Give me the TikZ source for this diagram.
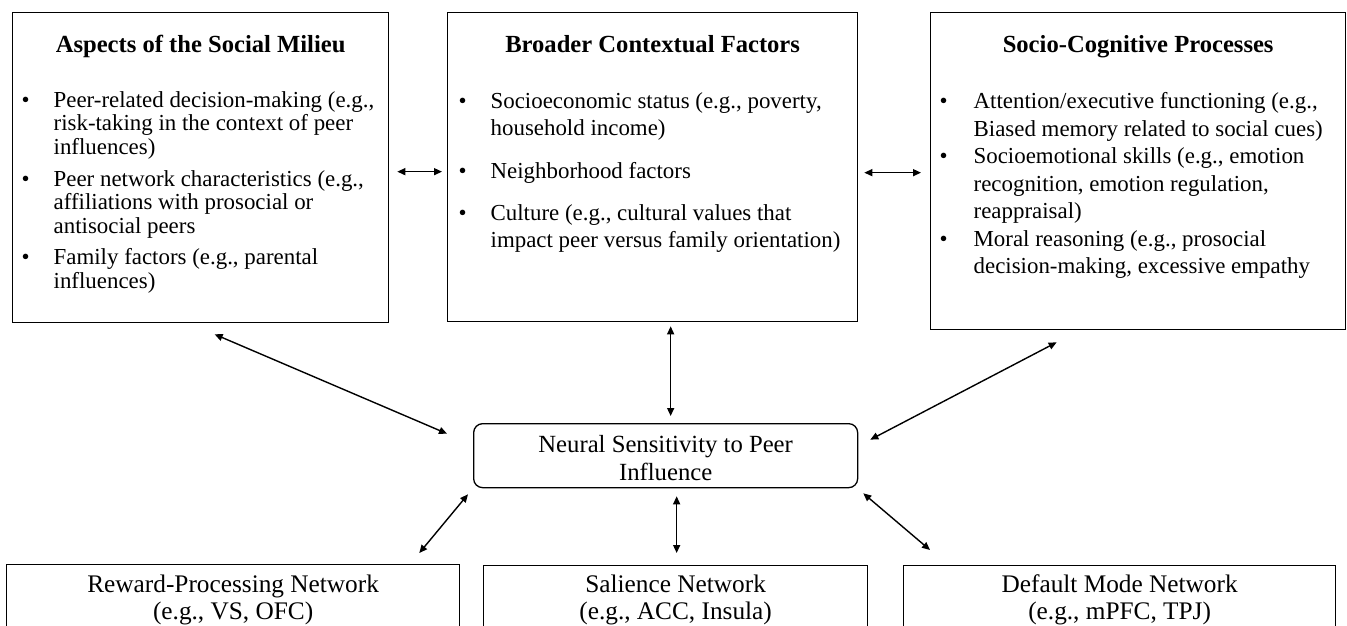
\documentclass[tikz,border=0pt]{standalone}
\usepackage{fontspec}
\setmainfont{Liberation Serif}
\usetikzlibrary{arrows.meta}
\newcommand\bitem[3]{\par\hangindent=#2pt\hangafter=1\noindent\hspace*{#1pt}\makebox[0pt]{\textbullet}\hspace*{\dimexpr #2pt-#1pt\relax}#3\par}
\tikzset{
  box/.style={draw, line width=1.3pt, inner sep=0pt, anchor=north west},
  rbox/.style={box, rounded corners=9pt},
  arr/.style={line width=1.4pt, {Triangle[length=8pt,width=7pt]}-{Triangle[length=8pt,width=7pt]}},
}
\begin{document}
\begin{tikzpicture}[x=1pt,y=-1pt]
\path[use as bounding box] (0,0) rectangle (1347,625);
\clip (0,0) rectangle (1347,625);

% top left box
\node[box] (L) at (12,12) {\begin{minipage}[t][310pt][t]{376pt}\lineskiplimit=-100pt
{\centering\fontsize{24.6}{28}\selectfont\bfseries\rule{0pt}{40pt}Aspects of the Social Milieu\par}
\vspace{31.7pt}
\raggedright\fontsize{22.9}{23.3}\selectfont
\bitem{13}{41}{Peer-related decision-making (e.g.,\newline risk-taking in the context of peer\newline influences)}
\vspace{9pt}
\bitem{13}{41}{Peer network characteristics (e.g.,\newline affiliations with prosocial or\newline antisocial peers}
\vspace{8.5pt}
\bitem{13}{41}{Family factors (e.g., parental\newline influences)}
\end{minipage}};

% top middle box
\node[box] (M) at (447,12) {\begin{minipage}[t][309pt][t]{410pt}\lineskiplimit=-100pt
{\centering\fontsize{24.6}{28}\selectfont\bfseries\rule{0pt}{40pt}Broader Contextual Factors\par}
\vspace{29pt}
\raggedright\fontsize{22.9}{27}\selectfont
\bitem{15}{43}{Socioeconomic status (e.g., poverty,\newline household income)}
\vspace{16pt}
\bitem{15}{43}{Neighborhood factors}
\vspace{15pt}
\bitem{15}{43}{Culture (e.g., cultural values that\newline impact peer versus family orientation)}
\end{minipage}};

% top right box
\node[box] (R) at (930,12) {\begin{minipage}[t][317pt][t]{415pt}\lineskiplimit=-100pt
{\centering\fontsize{24.6}{28}\selectfont\bfseries\rule{0pt}{40pt}Socio-Cognitive Processes\par}
\vspace{28.5pt}
\raggedright\fontsize{22.9}{27.5}\selectfont
\bitem{13}{43}{Attention/executive functioning (e.g.,\newline Biased memory related to social cues)}
\bitem{13}{43}{Socioemotional skills (e.g., emotion\newline recognition, emotion regulation,\newline reappraisal)}
\bitem{13}{43}{Moral reasoning (e.g., prosocial\newline decision-making, excessive empathy}
\end{minipage}};

% center box
\node[rbox] (C) at (473,423) {\begin{minipage}[t][64pt][t]{384pt}\lineskiplimit=-100pt
\centering\fontsize{24.7}{28}\selectfont\rule{0pt}{29pt}Neural Sensitivity to Peer\\ Influence\par
\end{minipage}};

% bottom boxes
\node[box] (B1) at (6,564) {\begin{minipage}[t][96pt][t]{453pt}\lineskiplimit=-100pt
\centering\fontsize{25.3}{27}\selectfont\rule{0pt}{28pt}Reward-Processing Network\\ (e.g., VS, OFC)\par
\end{minipage}};
\node[box] (B2) at (483,565) {\begin{minipage}[t][95pt][t]{384pt}\lineskiplimit=-100pt
\centering\fontsize{25.3}{27}\selectfont\rule{0pt}{27pt}Salience Network\\ (e.g., ACC, Insula)\par
\end{minipage}};
\node[box] (B3) at (903,565) {\begin{minipage}[t][95pt][t]{432pt}\lineskiplimit=-100pt
\centering\fontsize{25.3}{27}\selectfont\rule{0pt}{27pt}Default Mode Network\\ (e.g., mPFC, TPJ)\par
\end{minipage}};

% connectors
\draw[arr] ([shift={(8,4)}]L.east) -- ([shift={(-5,4.5)}]M.west);
\draw[arr] ([shift={(6,5.5)}]M.east) -- ([shift={(-9,1.5)}]R.west);
\draw[arr] ([shift={(14,11)}]L.south) -- ([shift={(-26,-22)}]C.west);
\draw[arr] ([shift={(18,4)}]M.south) -- ([shift={(5,-7)}]C.north);
\draw[arr] ([shift={(-81.5,12)}]R.south) -- ([shift={(12,-16)}]C.east);
\draw[arr] ([shift={(-5,6)}]C.south west) -- ([shift={(-41,-11)}]B1.north east);
\draw[arr] ([shift={(11,8)}]C.south) -- ([shift={(1,-12)}]B2.north);
\draw[arr] ([shift={(5,5)}]C.south east) -- ([shift={(27,-15)}]B3.north west);
\end{tikzpicture}
\end{document}
